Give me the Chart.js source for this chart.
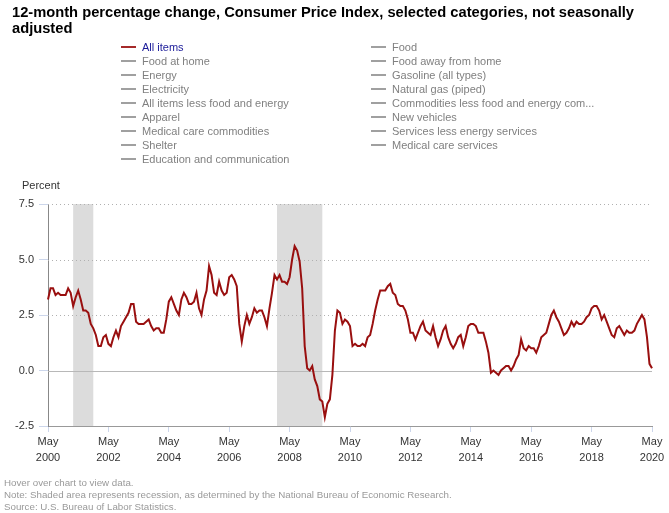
<!DOCTYPE html>
<html>
<head>
<meta charset="utf-8">
<script src="https://cdn.jsdelivr.net/npm/chart.js@4/dist/chart.umd.min.js"></script>
<style>
  html, body { margin:0; padding:0; background:#fff; }
  body { width:669px; height:513px; position:relative; overflow:hidden; font-family:"Liberation Sans", Arial, sans-serif; }
  #chartWrap { position:absolute; left:0; top:0; width:669px; height:513px; }
  #title { position:absolute; left:12px; top:4px; width:655px; font-weight:bold; font-size:14.7px; line-height:16px; color:#000; }
  .lg { position:absolute; height:14px; line-height:14px; font-size:11px; color:#808080; white-space:nowrap; }
  .lg .sw { position:absolute; left:0; top:6px; width:15px; height:2px; background:#a0a0a0; }
  .lg .tx { position:absolute; left:21px; top:0; }
  #percent { position:absolute; left:22px; top:178px; font-size:11px; line-height:14px; color:#333; }
  #notes { position:absolute; left:4px; top:477px; font-size:9.75px; line-height:11.8px; color:#999; }
</style>
</head>
<body>
<div id="chartWrap"><canvas id="c" width="669" height="513"></canvas></div>
<div id="title">12-month percentage change, Consumer Price Index, selected categories, not seasonally adjusted</div>
<div id="legend"></div>
<div id="percent">Percent</div>
<div id="notes">Hover over chart to view data.<br>Note: Shaded area represents recession, as determined by the National Bureau of Economic Research.<br>Source: U.S. Bureau of Labor Statistics.</div>
<script>
// ---- Data ----
const monthNames = ['Jan','Feb','Mar','Apr','May','Jun','Jul','Aug','Sep','Oct','Nov','Dec'];
const startYear = 2000;
const startMonth = 4; // May

// All items, 12-month percent change, May 2000 - May 2020
const allItems = [
  3.2,3.7,3.7,3.4,3.5,3.4,3.4,3.4,
  3.7,3.5,2.9,3.3,3.6,3.2,2.7,2.7,2.6,2.1,1.9,1.6,
  1.1,1.1,1.5,1.6,1.2,1.1,1.5,1.8,1.5,2.0,2.2,2.4,
  2.6,3.0,3.0,2.2,2.1,2.1,2.1,2.2,2.3,2.0,1.8,1.9,
  1.9,1.7,1.7,2.3,3.1,3.3,3.0,2.7,2.5,3.2,3.5,3.3,
  3.0,3.0,3.1,3.5,2.8,2.5,3.2,3.6,4.7,4.3,3.5,3.4,
  4.0,3.6,3.4,3.5,4.2,4.3,4.1,3.8,2.1,1.3,2.0,2.5,
  2.1,2.4,2.8,2.6,2.7,2.7,2.4,2.0,2.8,3.5,4.3,4.1,
  4.3,4.0,4.0,3.9,4.2,5.0,5.6,5.4,4.9,3.7,1.1,0.1,
  0.0,0.2,-0.4,-0.7,-1.3,-1.4,-2.1,-1.5,-1.3,-0.2,1.8,2.7,
  2.6,2.1,2.3,2.2,2.0,1.1,1.2,1.1,1.1,1.2,1.1,1.5,
  1.6,2.1,2.7,3.2,3.6,3.6,3.6,3.8,3.9,3.5,3.4,3.0,
  2.9,2.9,2.7,2.3,1.7,1.7,1.4,1.7,2.0,2.2,1.8,1.7,
  1.6,2.0,1.5,1.1,1.4,1.8,2.0,1.5,1.2,1.0,1.2,1.5,
  1.6,1.1,1.5,2.0,2.1,2.1,2.0,1.7,1.7,1.7,1.3,0.8,
  -0.1,0.0,-0.1,-0.2,0.0,0.1,0.2,0.2,0.0,0.2,0.5,0.7,
  1.4,1.0,0.9,1.1,1.0,1.0,0.8,1.1,1.5,1.6,1.7,2.1,
  2.5,2.7,2.4,2.2,1.9,1.6,1.7,1.9,2.2,2.0,2.2,2.1,
  2.1,2.2,2.4,2.5,2.8,2.9,2.9,2.7,2.3,2.5,2.2,1.9,
  1.6,1.5,1.9,2.0,1.8,1.6,1.8,1.7,1.7,1.8,2.1,2.3,
  2.5,2.3,1.5,0.3,0.1
];

// Recessions (NBER): Mar 2001 - Nov 2001, Dec 2007 - Jun 2009
const recessions = [['Mar 2001','Nov 2001'], ['Dec 2007','Jun 2009']];

// Y tick values
const yTicks = [-2.5, 0, 2.5, 5, 7.5];

// Legend series names (only "All items" is shown)
const seriesNames = [
  'All items','Food',
  'Food at home','Food away from home',
  'Energy','Gasoline (all types)',
  'Electricity','Natural gas (piped)',
  'All items less food and energy','Commodities less food and energy com...',
  'Apparel','New vehicles',
  'Medical care commodities','Services less energy services',
  'Shelter','Medical care services',
  'Education and communication'
];

// Category labels
const labels = allItems.map((_, i) => {
  const m = startMonth + i;
  return monthNames[m % 12] + ' ' + (startYear + Math.floor(m / 12));
});

// ---- Legend (HTML) ----
const legendEl = document.getElementById('legend');
seriesNames.forEach((name, i) => {
  const col = i % 2, row = Math.floor(i / 2);
  const d = document.createElement('div');
  d.className = 'lg';
  d.style.left = (col === 0 ? 121 : 371) + 'px';
  d.style.top = (40 + row * 14) + 'px';
  const sw = document.createElement('span'); sw.className = 'sw';
  const tx = document.createElement('span'); tx.className = 'tx'; tx.textContent = name;
  if (i === 0) { sw.style.background = '#a52a2a'; tx.style.color = '#1a1a99'; }
  d.appendChild(sw); d.appendChild(tx);
  legendEl.appendChild(d);
});

// ---- Background plugin: gridlines + recession shading ----
const bgPlugin = {
  id: 'bg',
  beforeDatasetsDraw(chart) {
    const { ctx, chartArea: a, scales: { x, y } } = chart;
    ctx.save();
    recessions.forEach(([s, e]) => {
      const x1 = x.getPixelForValue(labels.indexOf(s));
      const x2 = x.getPixelForValue(labels.indexOf(e));
      ctx.fillStyle = '#dcdcdc';
      ctx.fillRect(x1, a.top, x2 - x1, a.bottom - a.top);
    });
    ctx.lineWidth = 1;
    yTicks.forEach(v => {
      if (v === yTicks[0]) return;
      const py = Math.round(y.getPixelForValue(v)) + 0.5;
      ctx.beginPath();
      if (v === 0) { ctx.setLineDash([]); ctx.strokeStyle = '#b8b8b8'; }
      else { ctx.setLineDash([1, 3]); ctx.strokeStyle = '#b0b0b0'; }
      ctx.moveTo(a.left, py); ctx.lineTo(a.right, py); ctx.stroke();
    });
    ctx.restore();
  }
};

const FONT = '"Liberation Sans", Arial, sans-serif';

new Chart(document.getElementById('c'), {
  type: 'line',
  data: {
    labels: labels,
    datasets: [{
      label: seriesNames[0],
      data: allItems,
      borderColor: '#990f0f',
      borderWidth: 2,
      pointRadius: 0,
      tension: 0,
      fill: false
    }]
  },
  options: {
    responsive: false,
    animation: false,
    devicePixelRatio: 1,
    layout: { padding: { left: 0, top: 204, right: 17, bottom: 47 } },
    plugins: { legend: { display: false }, tooltip: { enabled: false }, title: { display: false } },
    scales: {
      x: {
        type: 'category',
        offset: false,
        grid: { drawOnChartArea: false, tickLength: 6, tickColor: '#ccd6eb', color: '#ccd6eb' },
        border: { color: '#999999', width: 1 },
        ticks: {
          autoSkip: false, maxRotation: 0, minRotation: 0, padding: 2,
          color: '#333', font: { family: FONT, size: 11, lineHeight: 1.45 },
          callback: (v, i) => (i % 24 === 0) ? ['May', String(startYear + i / 12)] : null
        },
        afterFit: s => { s.height = 40; }
      },
      y: {
        min: yTicks[0], max: yTicks[yTicks.length - 1],
        afterBuildTicks: s => { s.ticks = yTicks.map(v => ({ value: v })); },
        grid: { drawOnChartArea: false, tickLength: 9, tickColor: '#ccd6eb', color: '#ccd6eb' },
        border: { color: '#888888', width: 1 },
        ticks: { padding: 5, color: '#333', font: { family: FONT, size: 11 }, callback: v => Number(v).toFixed(1) },
        afterFit: s => { s.width = 48; }
      }
    }
  },
  plugins: [bgPlugin]
});
</script>
</body>
</html>
